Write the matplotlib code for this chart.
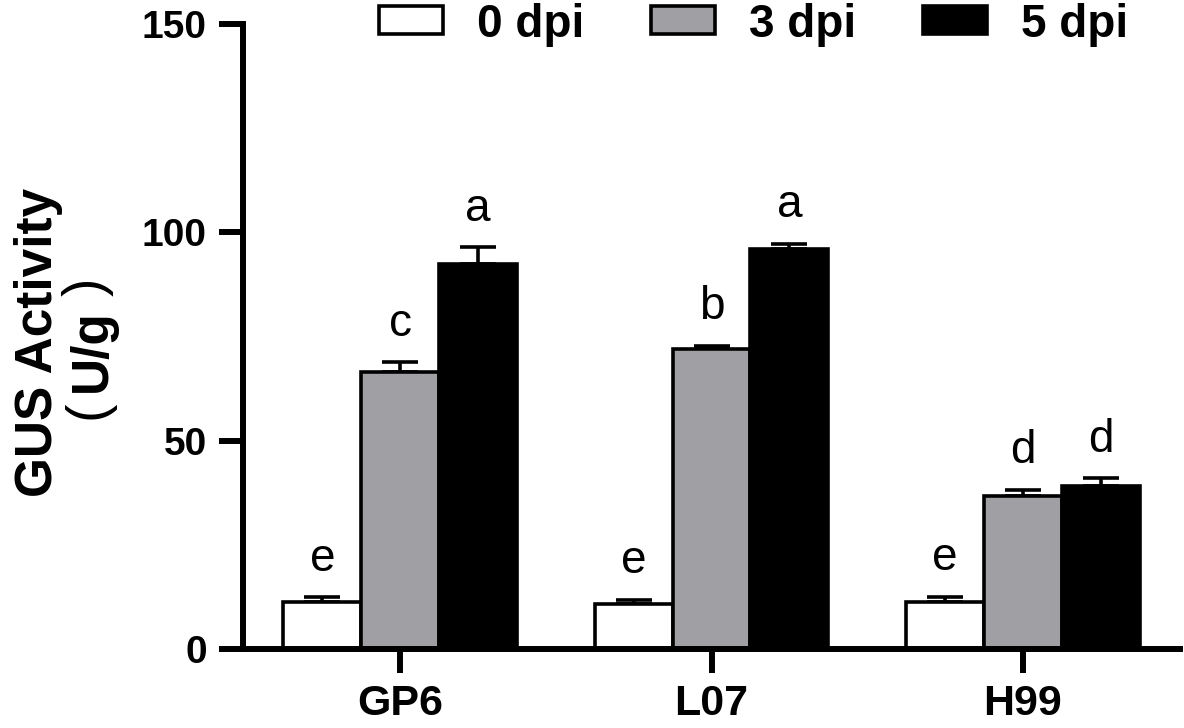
import matplotlib
matplotlib.use("Agg")
import matplotlib.pyplot as plt
import numpy as np
from matplotlib.patches import Patch

groups = ["GP6", "L07", "H99"]
series = ["0 dpi", "3 dpi", "5 dpi"]
vals_0 = [11.2, 10.7, 11.2]
vals_3 = [66.6, 72.0, 36.8]
vals_5 = [92.3, 95.9, 39.2]
err_0 = [1.2, 1.1, 1.4]
err_3 = [2.3, 0.8, 1.4]
err_5 = [4.2, 1.4, 1.8]
letters_0 = ["e", "e", "e"]
letters_3 = ["c", "b", "d"]
letters_5 = ["a", "a", "d"]
yticks = [0, 50, 100, 150]

colors = ["white", "#a0a0a4", "black"]
FONT = ["Liberation Sans", "Noto Sans CJK SC", "DejaVu Sans"]
plt.rcParams["font.family"] = FONT

W, H = 1184, 728
fig = plt.figure(figsize=(W / 100, H / 100), dpi=100)
ax = fig.add_axes([243/W, 1-649/H, (1180-243)/W, (649-24)/H])

x = np.arange(len(groups))
w = 0.25
lw_spine = 4.3
data = [(vals_0, err_0, letters_0), (vals_3, err_3, letters_3), (vals_5, err_5, letters_5)]
for i, (v, e, lets) in enumerate(data):
    xp = x + (i - 1) * w
    ax.bar(xp, v, width=w, color=colors[i], edgecolor="black", linewidth=2.6, zorder=2)
    ax.errorbar(xp, v, yerr=[np.zeros(len(e)), e], fmt="none", ecolor="black",
                elinewidth=2.6, capsize=13, capthick=2.6, zorder=1)
    for xi, vi, ei, li in zip(xp, v, e, lets):
        ax.annotate(li, (xi, vi + ei), xytext=(0, 19), textcoords="offset points",
                    ha="center", va="baseline", fontsize=33, family=FONT)

ax.set_xlim(-0.505, 2.505)
ax.set_ylim(0, 150)
ax.set_yticks(yticks)
ax.set_xticks(x)
ax.set_xticklabels(groups)
for s in ["top", "right"]:
    ax.spines[s].set_visible(False)
for s in ["left", "bottom"]:
    ax.spines[s].set_linewidth(lw_spine)
ax.tick_params(axis="both", width=lw_spine, length=17)
ax.tick_params(axis="y", labelsize=28, pad=9)
ax.tick_params(axis="x", labelsize=31, pad=8)
for lab in ax.get_xticklabels() + ax.get_yticklabels():
    lab.set_fontweight("bold")

# y-axis title, two lines, rotated
fig.text(52/W, 1-342/H, "GUS Activity", rotation=90, rotation_mode="anchor",
         ha="center", va="baseline", fontsize=37, fontweight="bold")
fig.text(106/W, 1-351/H, "U/g", rotation=90, rotation_mode="anchor",
         ha="center", va="baseline", fontsize=37, fontweight="bold")
fig.text(88/W, 1-410/H, "(", rotation=90, ha="center", va="center",
         fontsize=40, fontweight="normal")
fig.text(88/W, 1-287/H, ")", rotation=90, ha="center", va="center",
         fontsize=40, fontweight="normal")

handles = [Patch(facecolor=c, edgecolor="black", linewidth=2.6, label=s)
           for c, s in zip(colors, series)]
leg = fig.legend(handles=handles, loc="upper left", bbox_to_anchor=(374/W, 1.0 + 2/H),
                 ncol=3, frameon=False, prop={"weight": "bold", "size": 33},
                 handlelength=1.4, handleheight=0.57, handletextpad=0.75,
                 columnspacing=1.45, borderpad=0.1, borderaxespad=0)

fig.savefig("out.png", dpi=100)
